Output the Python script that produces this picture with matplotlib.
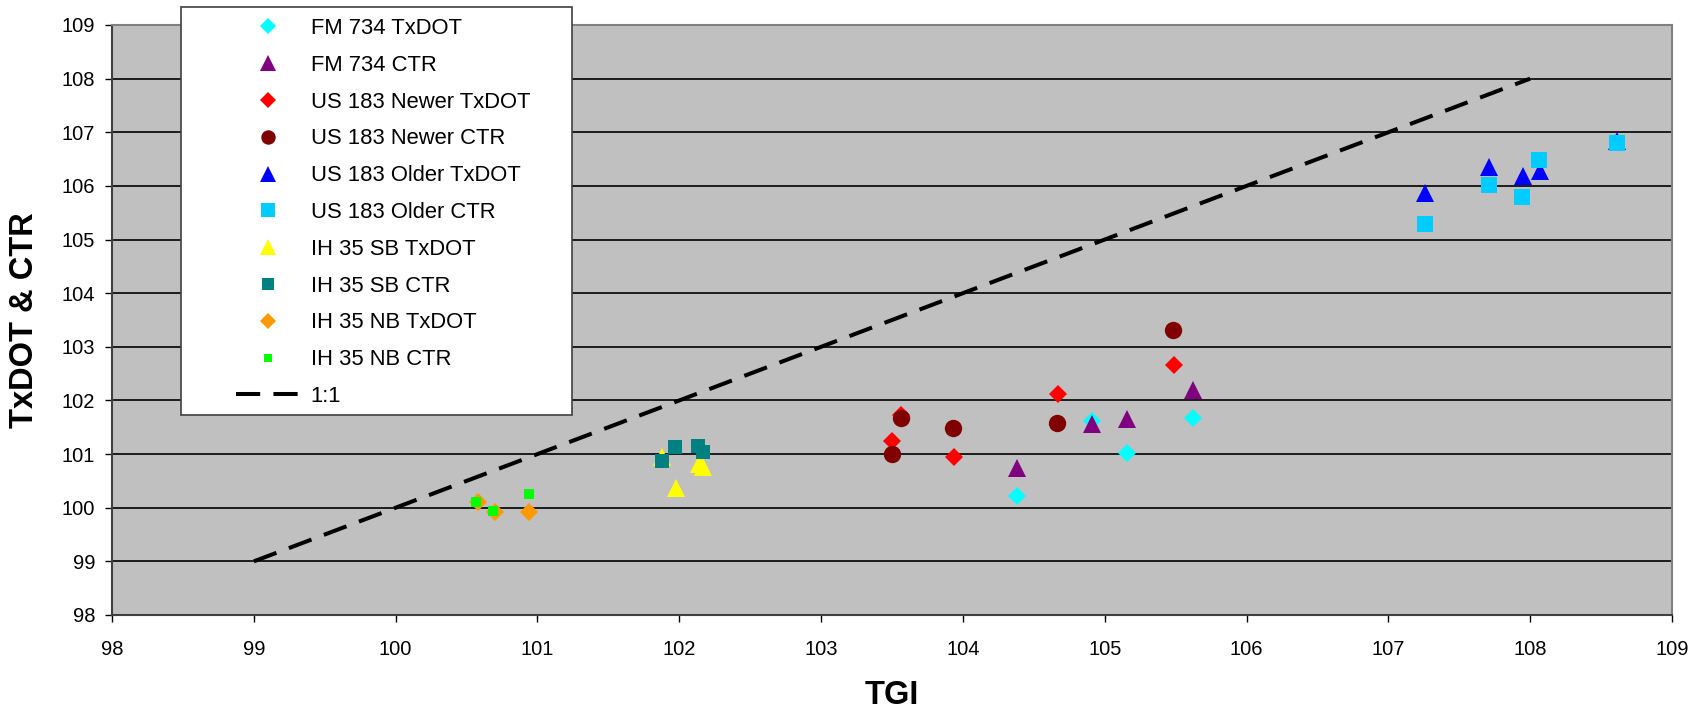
import matplotlib.pyplot as plt
from matplotlib.patches import Rectangle

plt.rcParams['font.family'] = ['Liberation Sans', 'DejaVu Sans']

# TGI (x) vs TxDOT & CTR (y)
fm734_txdot_x = [104.38, 104.91, 105.16, 105.62]
fm734_txdot_y = [100.21, 101.61, 101.02, 101.67]
fm734_ctr_x = [104.38, 104.91, 105.16, 105.62]
fm734_ctr_y = [100.75, 101.56, 101.65, 102.20]
us183_new_txdot_x = [103.50, 103.56, 103.94, 104.67, 105.49]
us183_new_txdot_y = [101.25, 101.73, 100.95, 102.12, 102.66]
us183_new_ctr_x = [103.50, 103.56, 103.93, 104.66, 105.48]
us183_new_ctr_y = [101.00, 101.68, 101.48, 101.58, 103.32]
us183_old_txdot_x = [107.26, 107.71, 107.95, 108.07, 108.61]
us183_old_txdot_y = [105.87, 106.35, 106.19, 106.28, 106.83]
us183_old_ctr_x = [107.26, 107.71, 107.94, 108.06, 108.61]
us183_old_ctr_y = [105.29, 106.02, 105.80, 106.48, 106.80]
ih35_sb_txdot_x = [101.88, 101.98, 102.14, 102.17]
ih35_sb_txdot_y = [100.95, 100.36, 100.82, 100.76]
ih35_sb_ctr_x = [101.88, 101.97, 102.13, 102.17]
ih35_sb_ctr_y = [100.87, 101.13, 101.16, 101.03]
ih35_nb_txdot_x = [100.58, 100.70, 100.94]
ih35_nb_txdot_y = [100.11, 99.92, 99.92]
ih35_nb_ctr_x = [100.57, 100.69, 100.94]
ih35_nb_ctr_y = [100.10, 99.94, 100.26]
one_to_one = [99, 108]

series = [
    ("FM 734 TxDOT", fm734_txdot_x, fm734_txdot_y, "D", 9.5, "#00FFFF"),
    ("FM 734 CTR", fm734_ctr_x, fm734_ctr_y, "^", 13.5, "#800080"),
    ("US 183 Newer TxDOT", us183_new_txdot_x, us183_new_txdot_y, "D", 9.5, "#FF0000"),
    ("US 183 Newer CTR", us183_new_ctr_x, us183_new_ctr_y, "o", 12.5, "#800000"),
    ("US 183 Older TxDOT", us183_old_txdot_x, us183_old_txdot_y, "^", 13.5, "#0000FF"),
    ("US 183 Older CTR", us183_old_ctr_x, us183_old_ctr_y, "s", 12, "#00CCFF"),
    ("IH 35 SB TxDOT", ih35_sb_txdot_x, ih35_sb_txdot_y, "^", 13.5, "#FFFF00"),
    ("IH 35 SB CTR", ih35_sb_ctr_x, ih35_sb_ctr_y, "s", 9.6, "#008080"),
    ("IH 35 NB TxDOT", ih35_nb_txdot_x, ih35_nb_txdot_y, "D", 9.5, "#FF9900"),
    ("IH 35 NB CTR", ih35_nb_ctr_x, ih35_nb_ctr_y, "s", 7.7, "#00FF00"),
]

W, H = 1704, 711
fig = plt.figure(figsize=(W / 100, H / 100), dpi=100)
ax = fig.add_axes([112 / W, 1 - 615 / H, 1560 / W, 590 / H])
ax.set_facecolor("#C0C0C0")

handles = []
for label, xs, ys, mk, ms, col in series:
    h, = ax.plot(xs, ys, linestyle="none", marker=mk, markersize=ms,
                 color=col, markeredgewidth=0, label=label, zorder=3)
    handles.append(h)

line, = ax.plot(one_to_one, one_to_one, color="black", linewidth=2.9,
                dashes=(6, 3.3), label="1:1", zorder=2)
handles.append(line)

ax.set_xlim(98, 109)
ax.set_ylim(98, 109)
ax.set_xticks(range(98, 110))
ax.set_yticks(range(98, 110))
ax.yaxis.grid(True, color="black", linewidth=1.2)
ax.set_axisbelow(True)
ax.tick_params(axis="x", direction="out", length=5, width=1, pad=13, labelsize=14.5)
ax.tick_params(axis="y", direction="out", length=5, width=1, pad=7, labelsize=14.5)
for side in ["top", "right"]:
    ax.spines[side].set_color("#808080")
    ax.spines[side].set_linewidth(1.5)
for side in ["left", "bottom"]:
    ax.spines[side].set_color("#404040")
    ax.spines[side].set_linewidth(1.5)

fig.text(892 / W, 1 - 695 / H, "TGI", ha="center", va="center",
         fontsize=23.5, fontweight="bold")
fig.text(25 / W, 1 - 320 / H, "TxDOT & CTR", ha="center", va="center",
         rotation=90, fontsize=23.5, fontweight="bold")

# legend box
fig.patches.append(Rectangle((181 / W, 1 - 415 / H), 391 / W, 408 / H,
                             transform=fig.transFigure, facecolor="white",
                             edgecolor="#404040", linewidth=1.2, zorder=1))
fig.legend(handles=handles, loc="upper left",
           bbox_to_anchor=(236 / W, 1 - 18 / H), frameon=False,
           fontsize=15.8, numpoints=1, markerscale=0.83, handlelength=2.9,
           handletextpad=0.5, labelspacing=0.72, borderpad=0, borderaxespad=0)

fig.savefig("out.png", dpi=100)
